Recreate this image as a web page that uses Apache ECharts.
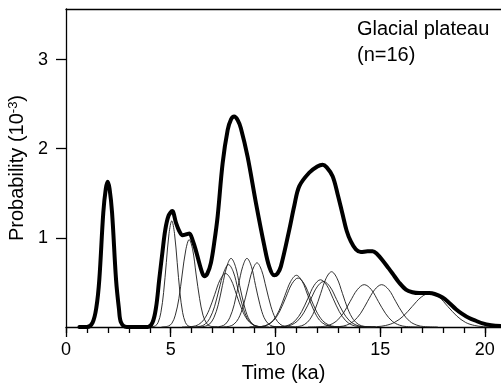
<!DOCTYPE html>
<html><head><meta charset="utf-8">
<script src="https://cdn.jsdelivr.net/npm/echarts@6/dist/echarts.min.js"></script>
<style>html,body{margin:0;padding:0;background:#fff}#c{width:501px;height:386px}</style>
</head><body><div id="c"></div>
<script>
// ---- data (time in ka, probability in 10^-3) ----
const xMajorTicks = [0, 5, 10, 15, 20];
const xMinorTicks = [0,1,2,3,4,5,6,7,8,9,10,11,12,13,14,15,16,17,18,19,20];
const yTicks = [1, 2, 3];

const summed = [[0.64,0],[1.0,0],[1.27,0.05],[1.45,0.22],[1.59,0.53],[1.78,1.28],[1.9,1.55],[1.99,1.63],[2.08,1.55],[2.2,1.28],[2.39,0.53],[2.53,0.2],[2.63,0.05],[2.9,0],[3.9,0],[4.13,0.05],[4.3,0.22],[4.45,0.53],[4.6,0.83],[4.74,1.09],[4.9,1.25],[5.07,1.30],[5.25,1.17],[5.4,1.08],[5.57,1.03],[5.75,1.04],[5.89,1.05],[6.05,0.97],[6.2,0.86],[6.36,0.72],[6.5,0.61],[6.6,0.57],[6.75,0.6],[6.92,0.72],[7.08,0.95],[7.24,1.24],[7.48,1.84],[7.72,2.21],[7.88,2.33],[8.03,2.36],[8.2,2.32],[8.35,2.23],[8.67,1.91],[9.07,1.39],[9.47,0.91],[9.7,0.68],[9.94,0.58],[10.1,0.6],[10.26,0.68],[10.66,1.09],[10.9,1.36],[11.14,1.58],[11.61,1.73],[12.0,1.8],[12.25,1.82],[12.45,1.79],[12.73,1.69],[12.97,1.49],[13.2,1.27],[13.4,1.08],[13.6,0.96],[13.84,0.87],[14.08,0.84],[14.4,0.85],[14.64,0.85],[14.85,0.82],[15.11,0.75],[15.4,0.66],[15.59,0.6],[15.9,0.5],[16.23,0.42],[16.54,0.39],[16.86,0.38],[17.34,0.38],[17.6,0.37],[17.98,0.33],[18.3,0.27],[18.62,0.2],[18.9,0.15],[19.25,0.1],[19.57,0.07],[19.89,0.04],[20.3,0.02],[20.75,0.01]];

const ageA = [[1.0,0],[1.27,0.05],[1.45,0.22],[1.59,0.53],[1.78,1.28],[1.9,1.55],[1.99,1.63],[2.08,1.55],[2.2,1.28],[2.39,0.53],[2.53,0.2],[2.63,0.05],[2.9,0]];
const ageB = [[4.01,0],[4.27,0.013],[4.40,0.052],[4.53,0.161],[4.66,0.386],[4.79,0.722],[4.92,1.05],[5.05,1.19],[5.18,1.05],[5.31,0.722],[5.44,0.386],[5.57,0.161],[5.70,0.052],[5.83,0.013],[6.09,0]];
const ageC = [[4.56,0],[4.89,0.011],[5.06,0.043],[5.22,0.133],[5.39,0.318],[5.55,0.594],[5.72,0.865],[5.88,0.98],[6.05,0.865],[6.21,0.594],[6.38,0.318],[6.54,0.133],[6.71,0.043],[6.87,0.011],[7.20,0]];
const ageD = [[5.54,0],[6.06,0.007],[6.32,0.026],[6.58,0.081],[6.84,0.195],[7.10,0.364],[7.36,0.53],[7.62,0.60],[7.88,0.53],[8.14,0.364],[8.40,0.195],[8.66,0.081],[8.92,0.026],[9.18,0.007],[9.70,0]];
const ageE = [[5.96,0],[6.41,0.008],[6.64,0.031],[6.86,0.095],[7.09,0.227],[7.31,0.425],[7.54,0.618],[7.76,0.70],[7.99,0.618],[8.21,0.425],[8.44,0.227],[8.66,0.095],[8.89,0.031],[9.11,0.008],[9.56,0]];
const ageF = [[6.24,0],[6.65,0.009],[6.86,0.034],[7.06,0.104],[7.27,0.25],[7.47,0.467],[7.68,0.68],[7.88,0.77],[8.09,0.68],[8.29,0.467],[8.50,0.25],[8.70,0.104],[8.91,0.034],[9.11,0.009],[9.52,0]];
const ageG = [[7.00,0],[7.41,0.009],[7.62,0.034],[7.82,0.104],[8.03,0.25],[8.23,0.467],[8.44,0.68],[8.64,0.77],[8.85,0.68],[9.05,0.467],[9.26,0.25],[9.46,0.104],[9.67,0.034],[9.87,0.009],[10.28,0]];
const ageH = [[7.36,0],[7.80,0.008],[8.02,0.032],[8.24,0.097],[8.46,0.234],[8.68,0.437],[8.90,0.635],[9.12,0.72],[9.34,0.635],[9.56,0.437],[9.78,0.234],[10.00,0.097],[10.22,0.032],[10.44,0.008],[10.88,0]];
const ageI = [[8.80,0],[9.35,0.006],[9.63,0.026],[9.90,0.078],[10.18,0.188],[10.45,0.352],[10.73,0.512],[11.00,0.58],[11.28,0.512],[11.55,0.352],[11.83,0.188],[12.10,0.078],[12.38,0.026],[12.65,0.006],[13.20,0]];
const ageJ = [[8.76,0],[9.34,0.006],[9.63,0.024],[9.92,0.074],[10.21,0.179],[10.50,0.334],[10.79,0.485],[11.08,0.55],[11.37,0.485],[11.66,0.334],[11.95,0.179],[12.24,0.074],[12.53,0.024],[12.82,0.006],[13.40,0]];
const ageK = [[9.75,0],[10.35,0.006],[10.65,0.023],[10.95,0.072],[11.25,0.172],[11.55,0.321],[11.85,0.468],[12.15,0.53],[12.45,0.468],[12.75,0.321],[13.05,0.172],[13.35,0.072],[13.65,0.023],[13.95,0.006],[14.55,0]];
const ageL = [[9.82,0],[10.44,0.006],[10.75,0.022],[11.06,0.069],[11.37,0.166],[11.68,0.309],[11.99,0.45],[12.30,0.51],[12.61,0.45],[12.92,0.309],[13.23,0.166],[13.54,0.069],[13.85,0.022],[14.16,0.006],[14.78,0]];
const ageM = [[10.60,0],[11.12,0.007],[11.38,0.027],[11.64,0.084],[11.90,0.201],[12.16,0.376],[12.42,0.547],[12.68,0.62],[12.94,0.547],[13.20,0.376],[13.46,0.201],[13.72,0.084],[13.98,0.027],[14.24,0.007],[14.76,0]];
const ageN = [[11.56,0],[12.23,0.005],[12.57,0.021],[12.90,0.064],[13.24,0.154],[13.57,0.288],[13.91,0.419],[14.24,0.475],[14.58,0.419],[14.91,0.288],[15.25,0.154],[15.58,0.064],[15.92,0.021],[16.25,0.005],[16.92,0]];
const ageO = [[12.39,0],[13.06,0.005],[13.40,0.021],[13.73,0.064],[14.07,0.154],[14.40,0.288],[14.74,0.419],[15.07,0.475],[15.41,0.419],[15.74,0.288],[16.08,0.154],[16.41,0.064],[16.75,0.021],[17.08,0.005],[17.75,0]];
const ageP = [[13.98,0],[14.83,0.004],[15.26,0.017],[15.68,0.051],[16.11,0.123],[16.53,0.23],[16.96,0.335],[17.38,0.38],[17.81,0.335],[18.23,0.23],[18.66,0.123],[19.08,0.051],[19.51,0.017],[19.93,0.004],[20.75,0]];

const individualAges = [ageA, ageB, ageC, ageD, ageE, ageF, ageG, ageH, ageI, ageJ, ageK, ageL, ageM, ageN, ageO, ageP];

const labelLine1 = 'Glacial plateau';
const labelLine2 = '(n=16)';

// ---- chart ----
const chart = echarts.init(document.getElementById('c'), null, {renderer: 'canvas'});
const FONT = '"Liberation Sans", Arial, Helvetica, sans-serif';
const XMAX = 20.77, YMAX = 3.567;
const axisLine = {color: '#000', width: 1.3};

const series = individualAges.map(d => ({
  type: 'line', data: d, xAxisIndex: 0, yAxisIndex: 0,
  showSymbol: false, symbol: 'none', smooth: 0.35, clip: false,
  lineStyle: {color: '#1a1a1a', width: 0.9}, z: 2, silent: true
}));
series.push({
  type: 'line', data: summed, xAxisIndex: 0, yAxisIndex: 0,
  showSymbol: false, symbol: 'none', smooth: 0.35, clip: false,
  lineStyle: {color: '#000', width: 4, cap: 'round', join: 'round'}, z: 3, silent: true
});

chart.setOption({
  animation: false,
  backgroundColor: '#fff',
  textStyle: {fontFamily: FONT, color: '#000'},
  grid: {left: 66, right: 0, top: 9, bottom: 59, containLabel: false, outerBoundsMode: 'none'},
  xAxis: [
    {
      type: 'value', min: 0, max: XMAX, position: 'bottom',
      axisLine: {show: true, onZero: false, lineStyle: axisLine},
      axisTick: {show: true, length: 10, customValues: xMajorTicks, lineStyle: axisLine},
      axisLabel: {customValues: xMajorTicks, margin: 14, fontSize: 18, color: '#000', fontFamily: FONT},
      splitLine: {show: false},
      name: 'Time (ka)', nameLocation: 'middle', nameGap: 30,
      nameTextStyle: {fontSize: 20, color: '#000', fontFamily: FONT}
    },
    {
      type: 'value', min: 0, max: XMAX, position: 'bottom',
      axisLine: {show: false, onZero: false},
      axisTick: {show: true, length: 6, customValues: xMinorTicks, lineStyle: axisLine},
      axisLabel: {show: false}, splitLine: {show: false}
    },
    {
      type: 'value', min: 0, max: XMAX, position: 'top',
      axisLine: {show: true, onZero: false, lineStyle: axisLine},
      axisTick: {show: false}, axisLabel: {show: false}, splitLine: {show: false}
    }
  ],
  yAxis: {
    type: 'value', min: 0, max: YMAX,
    axisLine: {show: true, onZero: false, lineStyle: axisLine},
    axisTick: {show: true, length: 10, customValues: yTicks, lineStyle: axisLine},
    axisLabel: {customValues: yTicks, margin: 18, fontSize: 18, color: '#000', fontFamily: FONT},
    splitLine: {show: false},
    name: 'Probability (10{sup|-3})', nameLocation: 'middle', nameGap: 33,
    nameTextStyle: {fontSize: 20, color: '#000', fontFamily: FONT,
      rich: {sup: {fontSize: 13, verticalAlign: 'top', color: '#000', fontFamily: FONT}}}
  },
  graphic: [
    {type: 'text', left: 357, top: 19, style: {text: labelLine1, font: '20px ' + FONT, fill: '#000'}},
    {type: 'text', left: 357, top: 45, style: {text: labelLine2, font: '20px ' + FONT, fill: '#000'}}
  ],
  series: series
});
</script></body></html>
